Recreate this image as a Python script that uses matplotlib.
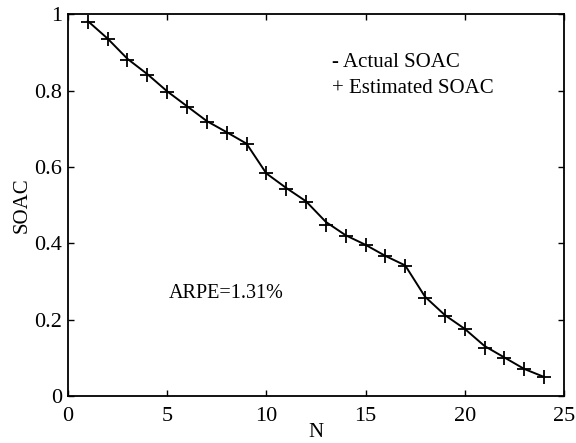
import matplotlib.pyplot as plt
import numpy as np

plt.rcParams['font.family'] = ['Liberation Serif', 'DejaVu Serif']

n = np.arange(1, 25)
actual = [0.982, 0.936, 0.883, 0.843, 0.798, 0.759, 0.720, 0.691, 0.661, 0.583, 0.545, 0.510,
          0.456, 0.421, 0.396, 0.367, 0.342, 0.260, 0.212, 0.176, 0.131, 0.101, 0.071, 0.050]
estimated = [0.980, 0.934, 0.881, 0.841, 0.797, 0.757, 0.718, 0.690, 0.660, 0.583, 0.543, 0.509,
             0.449, 0.419, 0.395, 0.366, 0.341, 0.258, 0.209, 0.175, 0.126, 0.100, 0.070, 0.049]

fig = plt.figure(figsize=(5.76, 4.43), dpi=100)
ax = fig.add_axes([0.118, 0.106, 0.861, 0.862])

ax.plot(n, actual, color='black', linewidth=1.4)
ax.plot(n, estimated, linestyle='none', marker='+', color='black', markersize=10, markeredgewidth=1.3)

ax.set_xlim(0, 25)
ax.set_ylim(0, 1)
ax.set_xticks([0, 5, 10, 15, 20, 25])
ax.set_yticks([0, 0.2, 0.4, 0.6, 0.8, 1])
ax.set_yticklabels(['0', '0.2', '0.4', '0.6', '0.8', '1'])
ax.tick_params(direction='in', top=True, right=True, labelsize=16, length=4, width=1)
ax.tick_params(axis='x', pad=8)
ax.tick_params(axis='y', pad=4)
for s in ax.spines.values():
    s.set_linewidth(1.3)

ax.set_xlabel('N', fontsize=15, labelpad=-2)
ax.set_ylabel('SOAC', fontsize=15, labelpad=2)

ax.text(13.3, 0.874, '- Actual SOAC', fontsize=15, va='center')
ax.text(13.3, 0.806, '+ Estimated SOAC', fontsize=15, va='center')
ax.text(5.1, 0.268, 'ARPE=1.31%', fontsize=14.5, va='center')

fig.savefig('out.png', dpi=100)
